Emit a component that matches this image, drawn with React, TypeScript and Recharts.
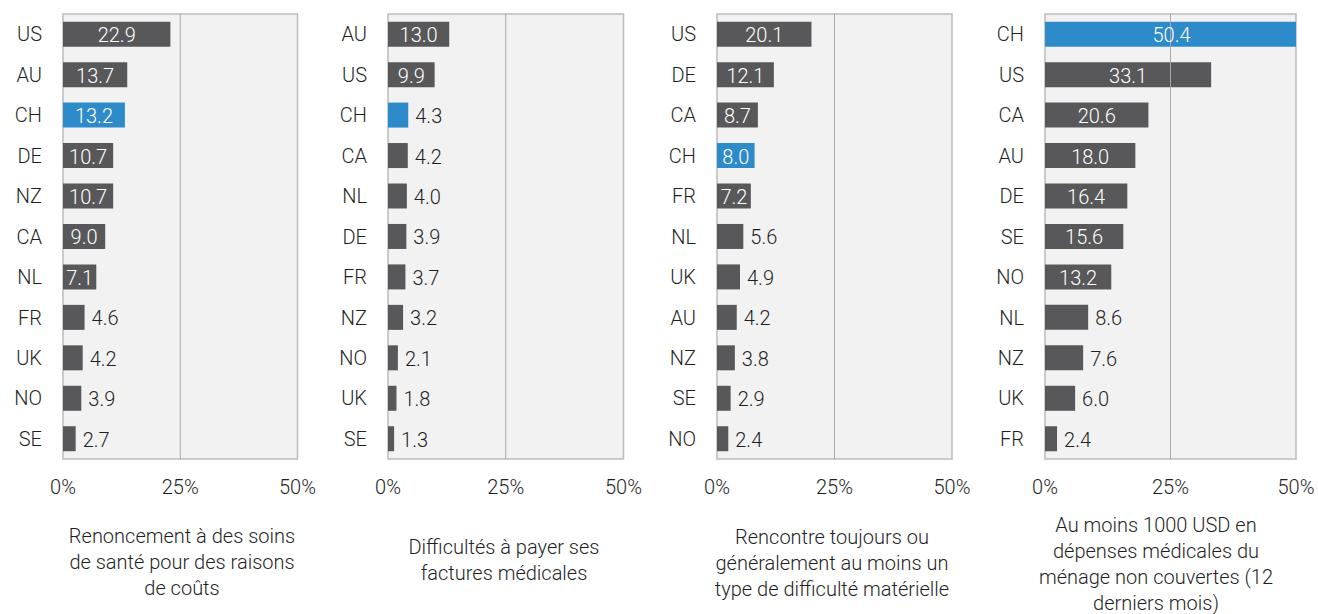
import React from "react";
import { BarChart, Bar, XAxis, YAxis, Cell, LabelList, ReferenceArea, ReferenceLine } from "recharts";

const cats1 = ["US", "AU", "CH", "DE", "NZ", "CA", "NL", "FR", "UK", "NO", "SE"];
const vals1 = [22.9, 13.7, 13.2, 10.7, 10.7, 9.0, 7.1, 4.6, 4.2, 3.9, 2.7];
const title1 = ["Renoncement à des soins", "de santé pour des raisons", "de coûts"];

const cats2 = ["AU", "US", "CH", "CA", "NL", "DE", "FR", "NZ", "NO", "UK", "SE"];
const vals2 = [13.0, 9.9, 4.3, 4.2, 4.0, 3.9, 3.7, 3.2, 2.1, 1.8, 1.3];
const title2 = ["Difficultés à payer ses", "factures médicales"];

const cats3 = ["US", "DE", "CA", "CH", "FR", "NL", "UK", "AU", "NZ", "SE", "NO"];
const vals3 = [20.1, 12.1, 8.7, 8.0, 7.2, 5.6, 4.9, 4.2, 3.8, 2.9, 2.4];
const title3 = ["Rencontre toujours ou", "généralement au moins un", "type de difficulté matérielle"];

const cats4 = ["CH", "US", "CA", "AU", "DE", "SE", "NO", "NL", "NZ", "UK", "FR"];
const vals4 = [50.4, 33.1, 20.6, 18.0, 16.4, 15.6, 13.2, 8.6, 7.6, 6.0, 2.4];
const title4 = ["Au moins 1000 USD en", "dépenses médicales du", "ménage non couvertes (12", "derniers mois)"];

const xTicks = [0, 25, 50];
const highlight = "CH";

const FONT = "Roboto, 'Noto Sans', sans-serif";
const TEXT = "#1f1f1f";
const BAR = "#58585a";
const BLUE = "#2e8bca";
const FS = 20;

type PanelProps = {
  cats: string[];
  vals: number[];
  title: string[];
  plotLeft: number;
  plotRight: number;
  threshold: number;
  titleCenter: number;
  titleTop: number;
};

const Y_W = 63;
const PLOT_TOP = 14;
const PLOT_BOTTOM = 459;
const X_H = 45;

function Panel({ cats, vals, title, plotLeft, plotRight, threshold, titleCenter, titleTop }: PanelProps) {
  const data = cats.map((c, i) => ({ c, v: vals[i] }));
  const plotW = plotRight - plotLeft;
  const mr = 30;
  const width = Y_W + plotW + mr;
  const height = PLOT_BOTTOM + X_H;
  const renderLabel = (p: any) => {
    const { x, y, width: w, height: h, value } = p;
    const inside = value >= threshold;
    const txt = Number(value).toFixed(1);
    if (inside) {
      return (
        <text x={x + w / 2} y={y + h / 2 + 1} textAnchor="middle" dominantBaseline="central"
          fill="#ffffff" fontSize={FS} fontFamily={FONT} fontWeight={300}>{txt}</text>
      );
    }
    return (
      <text x={x + w + 7} y={y + h / 2 + 1} textAnchor="start" dominantBaseline="central"
        fill={TEXT} fontSize={FS} fontFamily={FONT} fontWeight={300}>{txt}</text>
    );
  };
  return (
    <>
      <div style={{ position: "absolute", left: plotLeft - Y_W, top: 0 }}>
        <BarChart width={width} height={height} data={data} layout="vertical"
          margin={{ top: PLOT_TOP, right: mr, bottom: 0, left: 0 }}
          barCategoryGap="19%" style={{ overflow: "visible" }}>
          <XAxis type="number" domain={[0, 50]} ticks={xTicks} allowDataOverflow
            tickFormatter={(v: number) => `${v}%`} axisLine={false} tickLine={false}
            height={X_H} tickSize={0} tickMargin={21}
            tick={{ fill: TEXT, fontSize: FS, fontFamily: FONT, fontWeight: 300 }} interval={0} />
          <YAxis type="category" dataKey="c" width={Y_W} axisLine={false} tickLine={false}
            tickSize={0} tickMargin={21} interval={0}
            tick={{ fill: TEXT, fontSize: FS, fontFamily: FONT, fontWeight: 300 }} />
          <ReferenceArea x1={0} x2={50} fill="#f2f2f2" fillOpacity={1} stroke="#bcbcbc" strokeWidth={1.5} ifOverflow="visible" />
          <ReferenceLine x={25} stroke="#a6a6a6" strokeWidth={1} />
          <Bar dataKey="v" isAnimationActive={false}>
            {data.map((d, i) => (
              <Cell key={i} fill={d.c === highlight ? BLUE : BAR} />
            ))}
            <LabelList dataKey="v" content={renderLabel} />
          </Bar>
        </BarChart>
      </div>
      <div style={{
        position: "absolute", left: titleCenter - 150, top: titleTop, width: 300,
        textAlign: "center", fontFamily: FONT, fontWeight: 300, fontSize: FS,
        lineHeight: "26px", color: TEXT, whiteSpace: "nowrap"
      }}>
        {title.map((t, i) => <div key={i}>{t}</div>)}
      </div>
    </>
  );
}

export default function App() {
  return (
    <div style={{ position: "fixed", left: 0, top: 0, width: 1318, height: 614, background: "#ffffff", overflow: "hidden" }}>
      <Panel cats={cats1} vals={vals1} title={title1} plotLeft={63} plotRight={297.5} threshold={5} titleCenter={182} titleTop={523} />
      <Panel cats={cats2} vals={vals2} title={title2} plotLeft={388} plotRight={623.5} threshold={5} titleCenter={504} titleTop={534} />
      <Panel cats={cats3} vals={vals3} title={title3} plotLeft={716.5} plotRight={951.5} threshold={6} titleCenter={832} titleTop={524} />
      <Panel cats={cats4} vals={vals4} title={title4} plotLeft={1045} plotRight={1296} threshold={10} titleCenter={1156} titleTop={512} />
    </div>
  );
}
